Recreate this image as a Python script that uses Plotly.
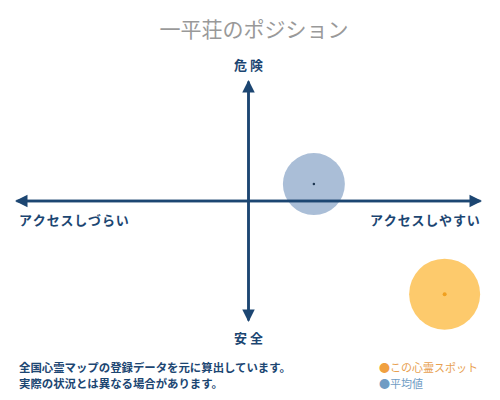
"""Position chart for 一平荘 (access vs danger)."""

import plotly.graph_objects as go

# data
spot_name = "この心霊スポット"
spot_access = [0.84]
spot_danger = [-0.77]

avg_name = "平均値"
avg_access = [0.28]
avg_danger = [0.14]

title_text = "一平荘のポジション"
label_top = "危 険"
label_bottom = "安 全"
label_left = "アクセスしづらい"
label_right = "アクセスしやすい"
note_lines = [
    "全国心霊マップの登録データを元に算出しています。",
    "実際の状況とは異なる場合があります。",
]

NAVY = "#1c4672"
FONT = "Noto Sans CJK JP"
AX_MIN, AX_MAX = -1, 1

# page body adds an 8px margin, so the figure is a bit smaller than the window
W, H = 492, 392
M = dict(l=7, r=18, t=72, b=78)
PW = W - M["l"] - M["r"]
PH = H - M["t"] - M["b"]


def px(x, y):
    """Window pixel -> paper coords."""
    fx, fy = x - 8, y - 8
    return (fx - M["l"]) / PW, (H - M["b"] - fy) / PH


def spaced(s):
    return "\u200a".join(s)


fig = go.Figure()

# average bubble
fig.add_trace(go.Scatter(
    x=avg_access, y=avg_danger, mode="markers", name=avg_name,
    marker=dict(size=62, color="#aabed7", line=dict(width=0)),
    hoverinfo="name", showlegend=False, cliponaxis=False,
))
fig.add_trace(go.Scatter(
    x=avg_access, y=avg_danger, mode="markers",
    marker=dict(size=2.5, color="#1c3550"), hoverinfo="skip", showlegend=False,
))

# this spot bubble
fig.add_trace(go.Scatter(
    x=spot_access, y=spot_danger, mode="markers", name=spot_name,
    marker=dict(size=71, color="#fdca6c", line=dict(width=0)),
    hoverinfo="name", showlegend=False, cliponaxis=False,
))
fig.add_trace(go.Scatter(
    x=spot_access, y=spot_danger, mode="markers",
    marker=dict(size=4, color="#f0a020"), hoverinfo="skip", showlegend=False,
    cliponaxis=False,
))

# axes as double-headed arrows (each arrow runs the full length so the
# tail gap of one is hidden under the head of the other)
arrow = dict(
    showarrow=True, arrowhead=2, arrowsize=1, arrowwidth=2.5, arrowcolor=NAVY,
    axref="x", ayref="y", xref="x", yref="y", text="", standoff=0,
)
for (hx, hy, tx, ty) in [
    (AX_MIN, 0, AX_MAX, 0), (AX_MAX, 0, AX_MIN, 0),
    (0, AX_MAX, 0, AX_MIN), (0, AX_MIN, 0, AX_MAX),
]:
    fig.add_annotation(x=hx, y=hy, ax=tx, ay=ty, **arrow)

lab = dict(font=dict(family=FONT, size=13, color=NAVY), showarrow=False)
fig.add_annotation(text=f"<b>{label_top}</b>", x=0, y=AX_MAX, xref="x", yref="y",
                   yanchor="bottom", yshift=4, **lab)
fig.add_annotation(text=f"<b>{label_bottom}</b>", x=0, y=AX_MIN, xref="x", yref="y",
                   yanchor="top", yshift=-4, **lab)
fig.add_annotation(text=f"<b>{spaced(label_left)}</b>", x=AX_MIN, y=0, xref="x", yref="y",
                   xanchor="left", yanchor="top", xshift=2, yshift=-7, **lab)
fig.add_annotation(text=f"<b>{spaced(label_right)}</b>", x=AX_MAX, y=0, xref="x", yref="y",
                   xanchor="right", yanchor="top", yshift=-7, **lab)

# footer notes
for i, line in enumerate(note_lines):
    nx, ny = px(17, 367 + 16 * i)
    fig.add_annotation(
        text=f"<b>{line}</b>", x=nx, y=ny, xref="paper", yref="paper",
        showarrow=False, xanchor="left", yanchor="middle",
        font=dict(family=FONT, size=11.4, color=NAVY),
    )

# legend built from text
legend_items = [
    (spot_name, "#f0a040", "#e8a050"),
    (avg_name, "#6f9cc4", "#6f9cc4"),
]
for i, (name, dot, txt) in enumerate(legend_items):
    lx, ly = px(377, 367 + 16 * i)
    fig.add_annotation(
        text=f"<span style='color:{dot}'>●</span><span style='color:{txt}'>{name}</span>",
        x=lx, y=ly, xref="paper", yref="paper", showarrow=False,
        xanchor="left", yanchor="middle",
        font=dict(family=FONT, size=11),
    )

fig.update_layout(
    width=W, height=H,
    margin=M,
    paper_bgcolor="white", plot_bgcolor="white",
    title=dict(text=title_text, x=0.5, xanchor="center", y=1 - 22 / H, yanchor="middle",
               font=dict(family=FONT, size=21, color="#999999")),
    xaxis=dict(range=[AX_MIN, AX_MAX], visible=False, fixedrange=True),
    yaxis=dict(range=[AX_MIN, AX_MAX], visible=False, fixedrange=True),
)

fig.write_html("out.html")
